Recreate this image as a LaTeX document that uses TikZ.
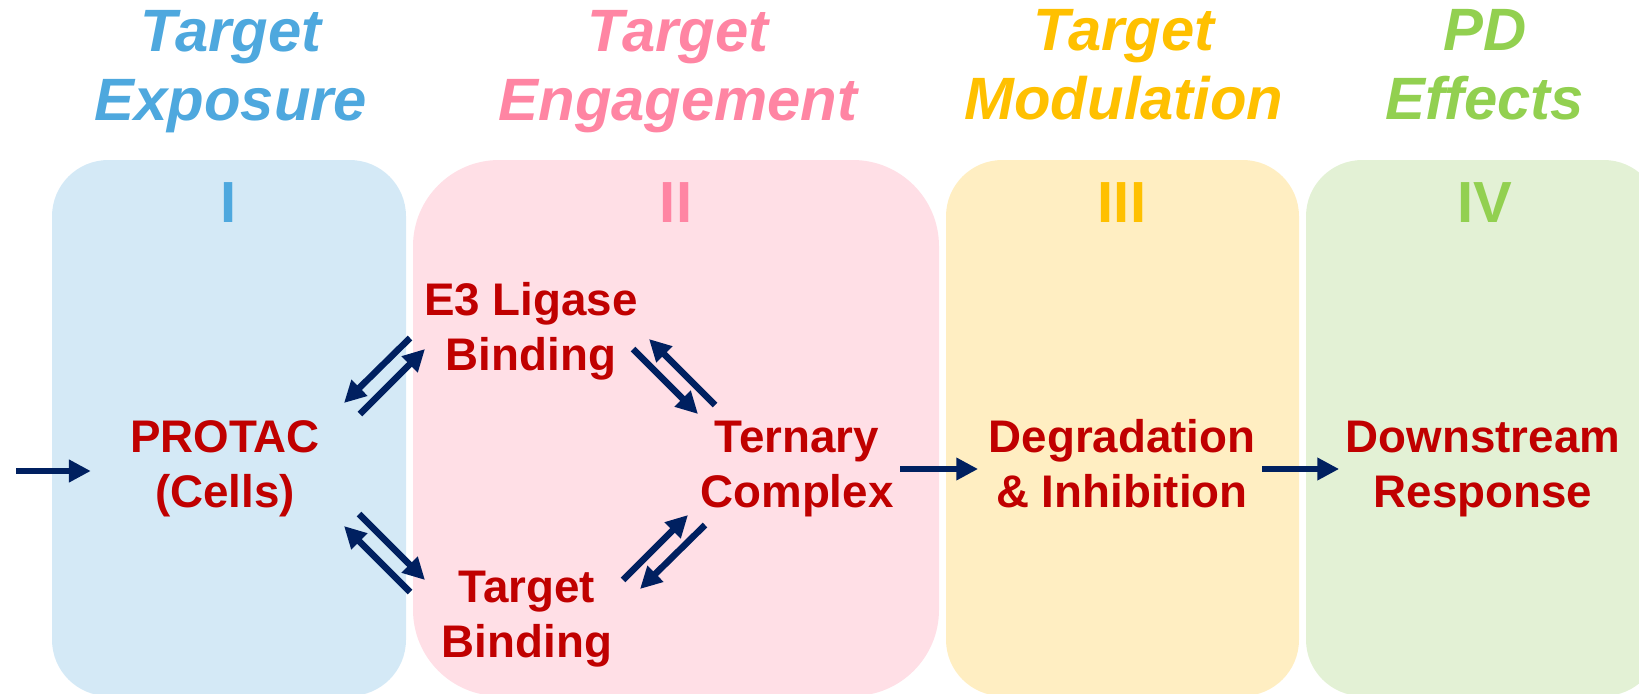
\documentclass[tikz,border=0pt]{standalone}
\usepackage{fontspec}
\setmainfont{Liberation Sans}
\usepackage{tikz}
\usetikzlibrary{arrows.meta,positioning}
\definecolor{exposureblue}{HTML}{4EA8DE}
\definecolor{exposurebg}{HTML}{D4E9F6}
\definecolor{engagepink}{HTML}{FF85A3}
\definecolor{engagebg}{HTML}{FFDFE6}
\definecolor{modyellow}{HTML}{FFC000}
\definecolor{modbg}{HTML}{FFEEC2}
\definecolor{effectgreen}{HTML}{92D050}
\definecolor{effectbg}{HTML}{E3F1D5}
\definecolor{steptext}{HTML}{C00000}
\definecolor{arrownavy}{HTML}{002060}

\begin{document}
\begin{tikzpicture}[x=0.01cm, y=-0.01cm,
    phase/.style={font=\fontsize{17pt}{19.6pt}\selectfont\bfseries\itshape, align=center, inner sep=0pt},
    numeral/.style={font=\fontsize{16.5pt}{19.9pt}\selectfont\bfseries, inner sep=0pt},
    species/.style={font=\fontsize{13pt}{15.65pt}\selectfont\bfseries, text=steptext, align=center, inner sep=0pt},
    flow/.style={draw=arrownavy, line width=1.85pt, -{Triangle[length=6.2pt,width=6.1pt]}}]
    \useasboundingbox (0,0) rectangle (1639,694);
    \clip (0,0) rectangle (1639,694);

    % Panels
    \fill[exposurebg, rounded corners=16pt] (52,160) rectangle (406,696);
    \fill[engagebg, rounded corners=24.5pt] (413,160) rectangle (939,696);
    \fill[modbg, rounded corners=16pt] (946,160) rectangle (1299,696);
    \fill[effectbg, rounded corners=16pt] (1306,160) rectangle (1660,696);

    % Phase titles
    \node[phase, text=exposureblue] (t1) at (231,71.5) {Target\\Exposure};
    \node[phase, text=engagepink] (t2) at (678,71.5) {Target\\Engagement};
    \node[phase, text=modyellow] (t3) at (1124,65) {Target\\Modulation};
    \node[phase, text=effectgreen] (t4) at (1485,65) {PD\\Effects};

    % Phase numbers
    \node[numeral, text=exposureblue] (n1) at (229,203) {I};
    \node[numeral, text=engagepink] (n2) at (676,203) {II};
    \node[numeral, text=modyellow] (n3) at (1122,203) {III};
    \node[numeral, text=effectgreen] (n4) at (1485,203) {IV};

    % Species
    \node[species] (protac) at (225,469) {PROTAC\\(Cells)};
    \node[species] (e3) at (531,331) {E3 Ligase\\Binding};
    \node[species] (target) at (527,619) {Target\\Binding};
    \node[species] (ternary) at (797,469) {Ternary\\Complex};
    \node[species] (degr) at (1122,464) {Degradation\\\& Inhibition};
    \node[species] (down) at (1483,469) {Downstream\\Response};

    % Forward steps
    \coordinate (src) at (16,471);
    \draw[flow, shorten >=11pt] (src) -- (src -| protac.west);
    \draw[flow, shorten <=1.7pt, shorten >=2.8pt] (ternary.east) -- (ternary.east -| degr.west);
    \draw[flow, shorten <=1.7pt, shorten >=1.7pt] (degr.east |- ternary.east) -- (ternary.east -| down.west);

    % Reversible binding steps
    \foreach \n/\ax/\ay/\bx/\by in {pe1/410/338/344/403, pe2/360/414/425/349,
        pt1/359/514/425/580, pt2/410/592/344/526,
        et1/633/349/698/414, et2/715/405/649/339,
        tt1/623/580/688/515, tt2/705/525/640/589} {
        \coordinate (\n-a) at (\ax,\ay);
        \coordinate (\n-b) at (\bx,\by);
        \draw[flow] (\n-a) -- (\n-b);
    }
\end{tikzpicture}
\end{document}
